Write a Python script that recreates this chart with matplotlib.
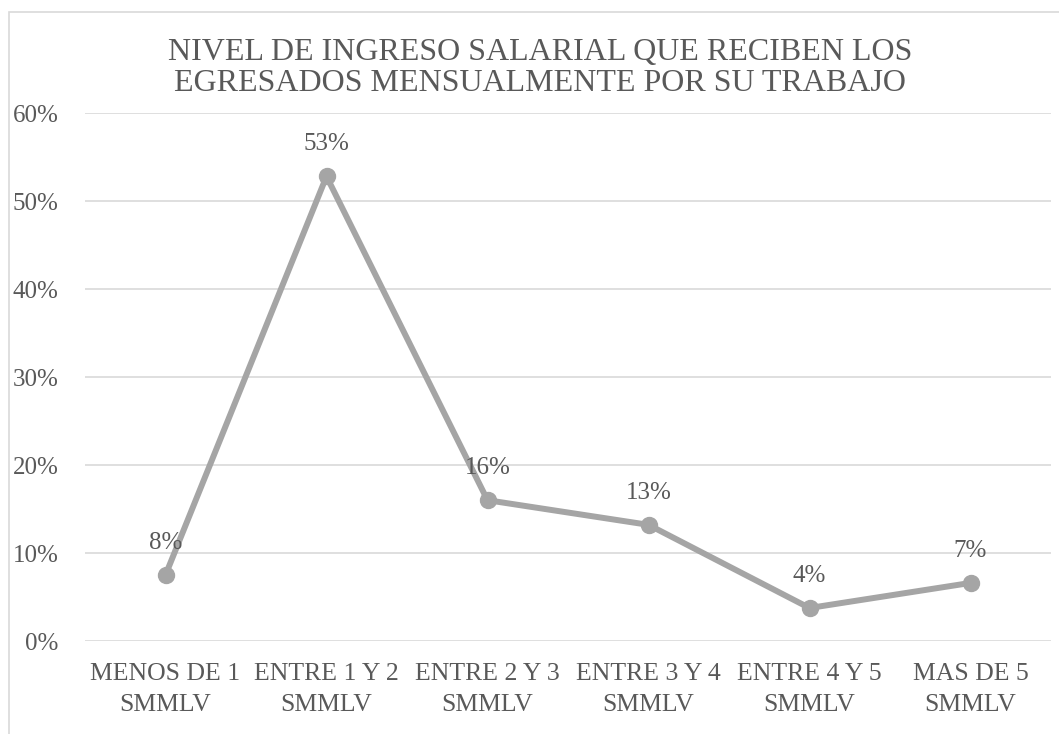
import matplotlib
matplotlib.use("Agg")
import matplotlib.pyplot as plt
from matplotlib.patches import Rectangle
from matplotlib.ticker import FuncFormatter

categories = ["MENOS DE 1\nSMMLV", "ENTRE 1 Y 2\nSMMLV", "ENTRE 2 Y 3\nSMMLV",
              "ENTRE 3 Y 4\nSMMLV", "ENTRE 4 Y 5\nSMMLV", "MAS DE 5\nSMMLV"]
values = [0.075, 0.528, 0.16, 0.132, 0.0375, 0.066]
labels = ["8%", "53%", "16%", "13%", "4%", "7%"]
title = "NIVEL DE INGRESO SALARIAL QUE RECIBEN LOS\nEGRESADOS MENSUALMENTE POR SU TRABAJO"

plt.rcParams['font.family'] = ['Liberation Serif', 'DejaVu Serif']
txt = '#595959'
W, H = 1059, 734
fig = plt.figure(figsize=(W/100, H/100), dpi=100)
fig.patches.append(Rectangle((9/W, -0.05), 1.1, 1 - 12/H + 0.05, transform=fig.transFigure,
                             fill=False, edgecolor='#D9D9D9', linewidth=1.2))
ax = fig.add_axes([85/W, 1 - 641/H, (1051 - 85)/W, (641 - 113)/H])
x = list(range(len(categories)))
ax.plot(x, values, color='#A5A5A5', linewidth=4.3, marker='o', markersize=11.5, zorder=3)
for xi, v, l in zip(x, values, labels):
    ax.annotate(l, (xi, v), xytext=(0, 23), textcoords='offset points',
                ha='center', va='center', fontsize=18, color=txt)
ax.set_xlim(-0.5, len(categories) - 0.5)
ax.set_ylim(0, 0.6)
ax.set_yticks([0, 0.1, 0.2, 0.3, 0.4, 0.5, 0.6])
ax.yaxis.set_major_formatter(FuncFormatter(lambda v, p: f"{v*100:.0f}%"))
ax.set_xticks(x)
ax.set_xticklabels(categories, fontsize=18.5, color=txt, linespacing=1.5)
ax.tick_params(axis='y', labelsize=18, labelcolor=txt, length=0, pad=19)
ax.tick_params(axis='x', length=0, pad=16)
ax.grid(axis='y', color='#D9D9D9', linewidth=1.2)
ax.set_axisbelow(True)
for s in ax.spines.values():
    s.set_visible(False)
fig.text(540 / W, 1 - 68/H, title, ha='center', va='center',
         fontsize=23, color=txt, linespacing=1.05)
fig.savefig("out.png", dpi=100)
